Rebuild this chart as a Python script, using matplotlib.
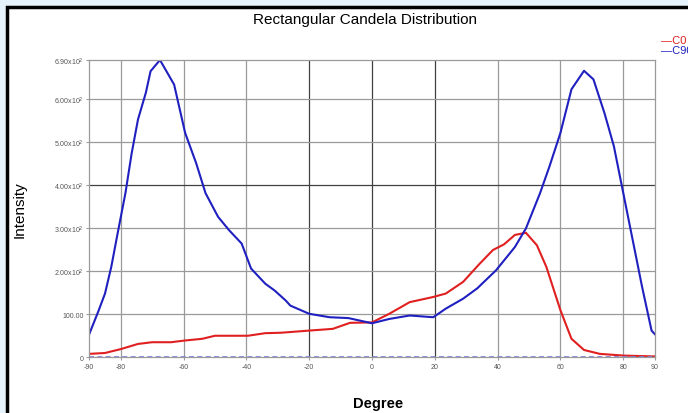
import matplotlib.pyplot as plt
import numpy as np

# C90 plane (blue)
c90_deg = [-90, -87, -85, -83, -81, -78.5, -76.5, -74.5, -72, -70.5, -67.5, -63,
           -59.5, -56, -53, -49, -45.5, -41.5, -38.5, -34, -31, -27.5, -26, -20,
           -13.5, -7.5, 0, 5.5, 12, 19.5, 23.5, 29, 33.5, 39.5, 45.5, 49, 53.5,
           56.5, 60, 63.5, 67.5, 70.5, 74, 77, 80, 83, 86, 89, 90]
c90_val = [54, 109, 148, 210, 287, 381, 474, 552, 614, 664, 690, 633,
           521, 451, 381, 326, 295, 264, 206, 171, 155, 132, 120, 101,
           93, 91, 79, 89, 97, 93, 113, 136, 160, 202, 256, 299, 381,
           443, 521, 622, 665, 645, 567, 490, 381, 272, 163, 62, 54]

# C0 plane (red)
c0_deg = [-90, -85, -80, -74.5, -70, -64, -59.5, -54, -50, -44, -39.5, -34, -29,
          -20, -12.5, -7, 0, 5.5, 12, 19.5, 23.5, 29, 34, 38.5, 42, 45.5, 49,
          52.5, 55.5, 60, 63.5, 67.5, 72.5, 80, 90]
c0_val = [8, 10, 19, 31, 35, 35, 39, 43, 50, 50, 50, 56, 57,
          62, 66, 80, 81, 101, 128, 140, 148, 175, 215, 249, 262, 284, 289,
          260, 210, 109, 43, 17, 8, 4, 2]

xticks = [-90, -80, -60, -40, -20, 0, 20, 40, 60, 80, 90]
yticks = [0, 100, 200, 300, 400, 500, 600, 690]
ylabels = ["0", "100.00", r"2.00x10$^2$", r"3.00x10$^2$", r"4.00x10$^2$",
           r"5.00x10$^2$", r"6.00x10$^2$", r"6.90x10$^2$"]

plt.rcParams["font.family"] = ["Liberation Sans", "DejaVu Sans"]

fig = plt.figure(figsize=(6.88, 4.14), dpi=100)
fig.patch.set_facecolor("#e6f3fa")
# white panel with black frame on the left/top only (rest runs off the figure)
panel = plt.Rectangle((6.5 / 688, -0.2), 1.2, 1.2 - 7.5 / 414, transform=fig.transFigure,
                      facecolor="white", edgecolor="black", linewidth=2.5, zorder=-1)
fig.patches.append(panel)

ax = fig.add_axes([89.3 / 688, 1 - 358.3 / 414, (654.7 - 89.3) / 688, (358.3 - 61) / 414])
ax.set_xlim(-90, 90)
ax.set_ylim(0, 690)

# grid
for x in [-80, -60, -40, 40, 60, 80]:
    ax.axvline(x, color="#9a9a9a", lw=0.9, zorder=0)
for x in [-20, 0, 20]:
    ax.axvline(x, color="#404040", lw=0.9, zorder=0)
for y in [100, 200, 300, 500, 600]:
    ax.axhline(y, color="#9a9a9a", lw=0.9, zorder=0)
ax.axhline(400, color="#404040", lw=0.9, zorder=0)

ax.plot(c0_deg, c0_val, color="#e02020", lw=1.5)
ax.plot(c90_deg, c90_val, color="#2020c0", lw=1.5)
ax.axhline(1, color="#7a7ae0", lw=1.2, ls=(0, (3, 2)))

for s in ax.spines.values():
    s.set_color("#9a9a9a")
    s.set_linewidth(0.9)

ax.set_xticks(xticks)
ax.set_xticklabels([str(t) for t in xticks], fontsize=5, color="#555555")
ax.set_yticks(yticks)
ax.set_yticklabels(ylabels, fontsize=5, color="#555555")
ax.tick_params(length=2, color="#9a9a9a", pad=2)

fig.text(365 / 688, 1 - 20 / 414, "Rectangular Candela Distribution", ha="center",
         va="center", fontsize=11)
fig.text(20 / 688, 1 - 210 / 414, "Intensity", rotation=90, ha="center",
         va="center", fontsize=11)
fig.text(378 / 688, 1 - 404 / 414, "Degree", ha="center", va="center",
         fontsize=10.5, fontweight="bold")

# legend on the right edge (cut off by the edge, as in the reference)
fig.text(661 / 688, 1 - 41 / 414, "\u2014C0", color="#e02020", fontsize=8,
         ha="left", va="center")
fig.text(661 / 688, 1 - 51 / 414, "\u2014C90", color="#2020c0", fontsize=8,
         ha="left", va="center")

plt.savefig("out.png", dpi=100, facecolor=fig.get_facecolor())
